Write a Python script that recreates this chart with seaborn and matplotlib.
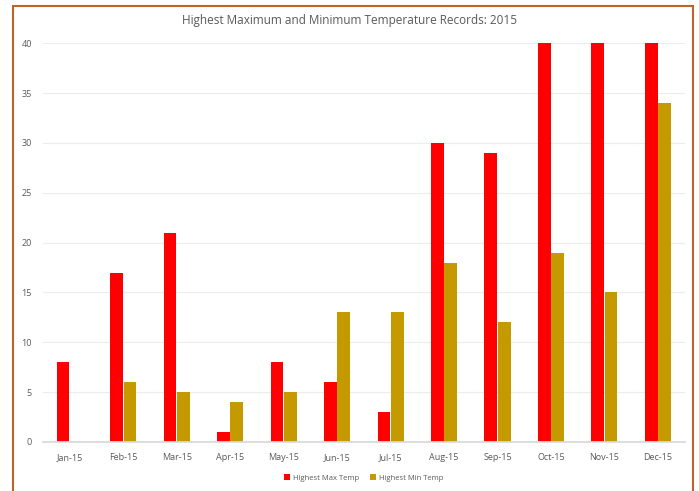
import matplotlib

matplotlib.use("Agg")

import matplotlib.pyplot as plt
import pandas as pd
import seaborn as sns
from matplotlib.patches import Rectangle

MONTHS = ["Jan-15", "Feb-15", "Mar-15", "Apr-15", "May-15", "Jun-15",
          "Jul-15", "Aug-15", "Sep-15", "Oct-15", "Nov-15", "Dec-15"]
MAX_TEMP = [8, 17, 21, 1, 8, 6, 3, 30, 29, 40, 40, 40]
MIN_TEMP = [0, 6, 5, 4, 5, 13, 13, 18, 12, 19, 15, 34]
SERIES = ["Highest Max Temp", "Highest Min Temp"]

RED = "#ff0000"
GOLD = "#c49a00"

df = pd.DataFrame({
    "month": MONTHS * 2,
    "value": MAX_TEMP + MIN_TEMP,
    "series": [SERIES[0]] * len(MONTHS) + [SERIES[1]] * len(MONTHS),
})

sns.set_theme(style="white")
plt.rcParams["font.family"] = ["Open Sans", "DejaVu Sans"]

fig = plt.figure(figsize=(6.99, 4.91), dpi=100)
ax = fig.add_axes([0.0615, 0.0998, 0.918, 0.812])

sns.barplot(data=df, x="month", y="value", hue="series", order=MONTHS,
            hue_order=SERIES, palette=[RED, GOLD], width=0.5, gap=0.05,
            saturation=1, linewidth=0, ax=ax, legend=True)

ax.set_ylim(0, 40)
ax.set_yticks(range(0, 41, 5))
ax.set_xlim(-0.5, len(MONTHS) - 0.5)
ax.yaxis.grid(True, color="#ececec", lw=0.8)
ax.set_axisbelow(True)
for s in ("top", "right", "left"):
    ax.spines[s].set_visible(False)
ax.spines["bottom"].set_color("#d9d9d9")
ax.tick_params(axis="both", labelsize=6.5, colors="#595959", length=0, pad=8)
ax.set_xlabel("")
ax.set_ylabel("")

ax.legend(loc="center", bbox_to_anchor=(0.5, -0.09), ncol=2,
          frameon=False, fontsize=5.5, handlelength=0.7, handleheight=0.7,
          columnspacing=1.5, handletextpad=0.4, labelcolor="#595959")

fig.text(0.5, 0.958, "Highest Maximum and Minimum Temperature Records: 2015",
         ha="center", va="center", fontsize=8.5, color="#595959")

fig.patches.append(Rectangle((0.0186, -0.02), 0.973, 1.008,
                             transform=fig.transFigure, fill=False,
                             edgecolor="#c0622a", lw=1.5))

fig.savefig("out.png", dpi=100)
